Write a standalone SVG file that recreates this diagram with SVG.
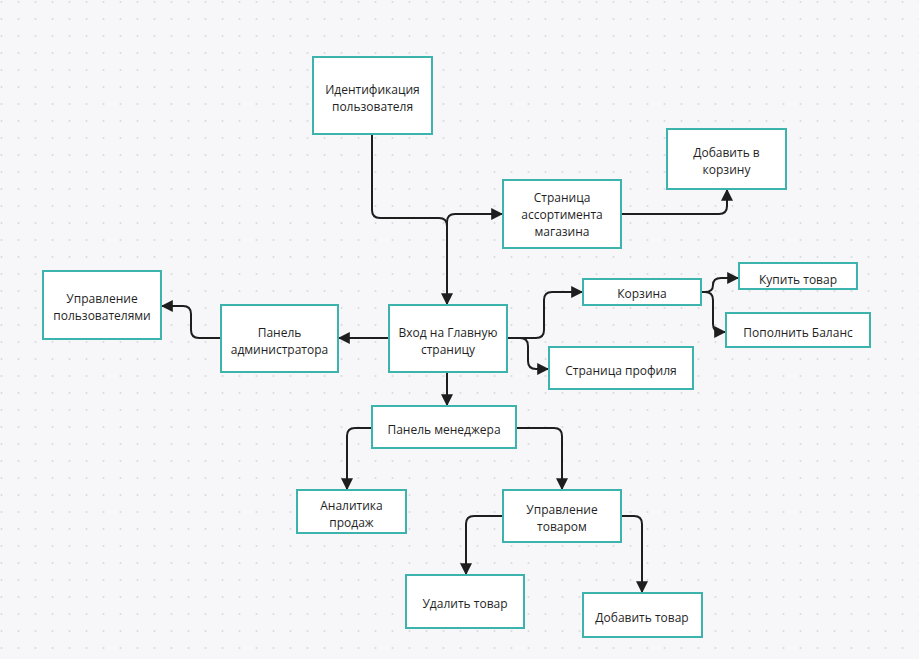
<svg xmlns="http://www.w3.org/2000/svg" width="919" height="659" viewBox="0 0 919 659">
<style>
.n{fill:#ffffff;stroke:#3db3ad;stroke-width:2}
.t{font-family:"Open Sans","Liberation Sans",sans-serif;font-size:12px;fill:#1f1f1f;text-anchor:middle;dominant-baseline:central}
.c{fill:none;stroke:#1e1e1e;stroke-width:2;marker-end:url(#ah)}
</style>
<defs>
<pattern id="dots" width="17" height="17" patternUnits="userSpaceOnUse" x="0" y="0">
<circle cx="1.5" cy="2" r="1" fill="#d9d9de"/>
</pattern>
<marker id="ah" viewBox="0 0 10 10" refX="9" refY="5" markerWidth="6" markerHeight="6" orient="auto" markerUnits="strokeWidth">
<path d="M0,0 L10,5 L0,10 z" fill="#1e1e1e"/>
</marker>
</defs>
<rect width="919" height="659" fill="#f7f7f9"/>
<rect width="919" height="659" fill="url(#dots)"/>
<g id="connectors">
<path class="c" d="M372,134 V210 Q372,218 380,218 H439 Q447,218 447,226 V304"/>
<path class="c" d="M447,250 V222 Q447,214 455,214 H502"/>
<path class="c" d="M621,214 H719 Q727,214 727,206 V190"/>
<path class="c" d="M389,338 H339"/>
<path class="c" d="M221,338 H199 Q191,338 191,330 V314 Q191,306 183,306 H162"/>
<path class="c" d="M507,338 H536 Q544,338 544,330 V300 Q544,292 552,292 H582"/>
<path class="c" d="M520,338 Q528,338 528,346 V361 Q528,369 536,369 H548"/>
<path class="c" d="M701,292 H705 Q713,292 713,285 Q713,278 721,278 H738"/>
<path class="c" d="M705,292 Q713,292 713,300 V324 Q713,332 721,332 H725"/>
<path class="c" d="M447,372 V405"/>
<path class="c" d="M372,428 H355 Q347,428 347,436 V489"/>
<path class="c" d="M516,428 H554 Q562,428 562,436 V489"/>
<path class="c" d="M503,516 H474 Q466,516 466,524 V574"/>
<path class="c" d="M621,516 H634 Q642,516 642,524 V592"/>
</g>
<g id="n1"><rect class="n" x="313" y="57" width="119" height="77"/><text class="t" x="372.5" y="89">Идентификация</text><text class="t" x="372.5" y="106">пользователя</text></g>
<g id="n2"><rect class="n" x="503" y="180" width="118" height="68"/><text class="t" x="562" y="197">Страница</text><text class="t" x="562" y="214">ассортимента</text><text class="t" x="562" y="231">магазина</text></g>
<g id="n3"><rect class="n" x="667" y="129" width="119" height="60"/><text class="t" x="726.5" y="152">Добавить в</text><text class="t" x="726.5" y="169">корзину</text></g>
<g id="n4"><rect class="n" x="43" y="271" width="118" height="68"/><text class="t" x="102" y="298">Управление</text><text class="t" x="102" y="315">пользователями</text></g>
<g id="n5"><rect class="n" x="221" y="305" width="117" height="67"/><text class="t" x="279.5" y="332">Панель</text><text class="t" x="279.5" y="349">администратора</text></g>
<g id="n6"><rect class="n" x="389" y="305" width="118" height="67"/><text class="t" x="448" y="332">Вход на Главную</text><text class="t" x="448" y="349">страницу</text></g>
<g id="n7"><rect class="n" x="583" y="279" width="118" height="26"/><text class="t" x="642" y="293">Корзина</text></g>
<g id="n8"><rect class="n" x="739" y="263" width="118" height="26"/><text class="t" x="798" y="279">Купить товар</text></g>
<g id="n9"><rect class="n" x="726" y="313" width="144" height="34"/><text class="t" x="798" y="332">Пополнить Баланс</text></g>
<g id="n10"><rect class="n" x="549" y="347" width="144" height="42"/><text class="t" x="621" y="370">Страница профиля</text></g>
<g id="n11"><rect class="n" x="372" y="406" width="144" height="42"/><text class="t" x="444" y="429">Панель менеджера</text></g>
<g id="n12"><rect class="n" x="297" y="490" width="109" height="43"/><text class="t" x="351.5" y="505">Аналитика</text><text class="t" x="351.5" y="522">продаж</text></g>
<g id="n13"><rect class="n" x="503" y="490" width="118" height="52"/><text class="t" x="562" y="509">Управление</text><text class="t" x="562" y="526">товаром</text></g>
<g id="n14"><rect class="n" x="406" y="575" width="118" height="53"/><text class="t" x="465" y="603">Удалить товар</text></g>
<g id="n15"><rect class="n" x="583" y="593" width="119" height="44"/><text class="t" x="642" y="617">Добавить товар</text></g>
</svg>
